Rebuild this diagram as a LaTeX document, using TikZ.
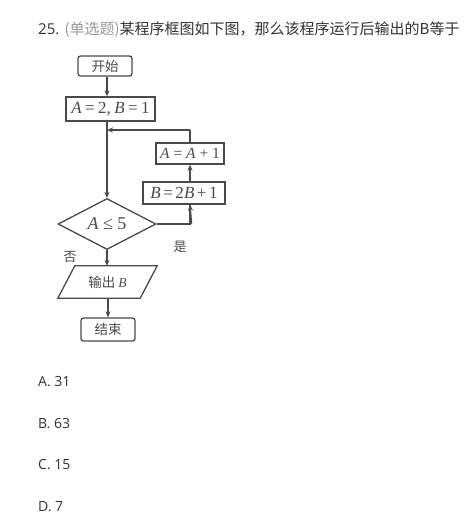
\documentclass[tikz,border=0pt]{standalone}
\usepackage{fontspec}
\usetikzlibrary{arrows.meta,shapes.geometric,calc}
\newfontfamily\cjk{Noto Sans CJK SC}
\newfontfamily\osans{Open Sans}
\newfontfamily\tms{Liberation Serif}
\definecolor{txt}{HTML}{333333}
\definecolor{lgray}{HTML}{9A9A9A}
\definecolor{fl}{HTML}{4A4A4A}
\newcommand\tsp{\hspace{0.2em}}
\begin{document}
\begin{tikzpicture}[x=1pt,y=-1pt,
  conn/.style={draw=fl,line width=1.4pt,-{Stealth[length=6pt,width=5pt]}},
  plain/.style={draw=fl,line width=1.4pt},
  term/.style={draw=fl,line width=1.3pt,rounded corners=2.5pt,inner sep=0pt,font=\cjk\fontsize{13.5}{13.5}\selectfont,text=fl},
  proc/.style={draw=fl,line width=1.3pt,inner sep=0pt,text=fl},
  lab/.style={font=\cjk\fontsize{13}{13}\selectfont,text=fl},
  opt/.style={anchor=base west,inner sep=0pt,font=\osans\fontsize{14}{14}\selectfont,text=txt}]
\useasboundingbox[fill=white] (0,0) rectangle (476,528);
% title
\node[anchor=base west,inner sep=0pt,text=txt] (title) at (38,34)
  {\osans\fontsize{15}{15}\selectfont 25. \cjk\fontsize{15}{15}\selectfont\textcolor{lgray}{(单选题)}某程序框图如下图，那么该程序运行后输出的B等于};
% flowchart
\node[term,minimum width=54pt,minimum height=20pt] (start) at (105,66) {开始};
\node[proc,minimum width=89pt,minimum height=24pt,font=\tms\fontsize{17}{17}\selectfont] (init) at (110.5,109) {\textit{A}\tsp=\tsp2,\tsp\textit{B}\tsp=\tsp1};
\node[proc,minimum width=68pt,minimum height=21pt,font=\tms\fontsize{15.5}{15.5}\selectfont] (inca) at (190,153.5) {\textit{A} = \textit{A} + 1};
\node[proc,minimum width=82pt,minimum height=22pt,font=\tms\fontsize{17}{17}\selectfont] (incb) at (184,193) {\textit{B}\hspace{0.15em}=\hspace{0.15em}2\textit{B}\hspace{0.15em}+\hspace{0.15em}1};
\node[diamond,draw=fl,line width=1.3pt,minimum width=98pt,minimum height=42pt,inner sep=0pt,font=\tms\fontsize{18}{18}\selectfont,text=fl] (cond) at (107,224) {\textit{A} ≤ 5};
\node[inner sep=0pt,minimum width=82pt,minimum height=32pt,font=\cjk\fontsize{13.5}{13.5}\selectfont,text=fl] (out) at (107.5,282) {输出 {\tms\itshape B}};
\draw[fl,line width=1.3pt] ($(out.north west)+(8.5,0)$) -- ($(out.north east)+(8.5,0)$) -- ($(out.south east)+(-8.5,0)$) -- ($(out.south west)+(-8.5,0)$) -- cycle;
\node[term,minimum width=54pt,minimum height=23pt] (stop) at (108,329.5) {结束};
\node[lab] (yes) at (180,247) {是};
\node[lab] (no) at (70,257) {否};
\coordinate (loopR) at (inca.north |- 0,130);
\coordinate (loopL) at (107,130);
\coordinate (yesR) at (incb.south -| inca.north);
% connectors
\draw[conn] (start.south -| cond.north) -- (init.north -| cond.north);
\draw[conn] (init.south -| cond.north) -- (cond.north);
\draw[plain] (inca.north) -- (loopR);
\draw[conn] (loopR) -- (loopL);
\draw[conn] (incb.north -| inca.north) -- (inca.south);
\draw[plain] (cond.east) -| (yesR);
\draw[conn] ($(cond.east)+(34.9,0)$) -- (yesR);
\draw[conn] (cond.south) -- (out.north -| cond.south);
\draw[conn] (out.south -| stop.north) -- (stop.north);
% options
\node[opt] (oa) at (38,386) {A. 31};
\node[opt] (ob) at (38,428) {B. 63};
\node[opt] (oc) at (38,469) {C. 15};
\node[opt] (od) at (38,511) {D. 7};
\end{tikzpicture}
\end{document}
